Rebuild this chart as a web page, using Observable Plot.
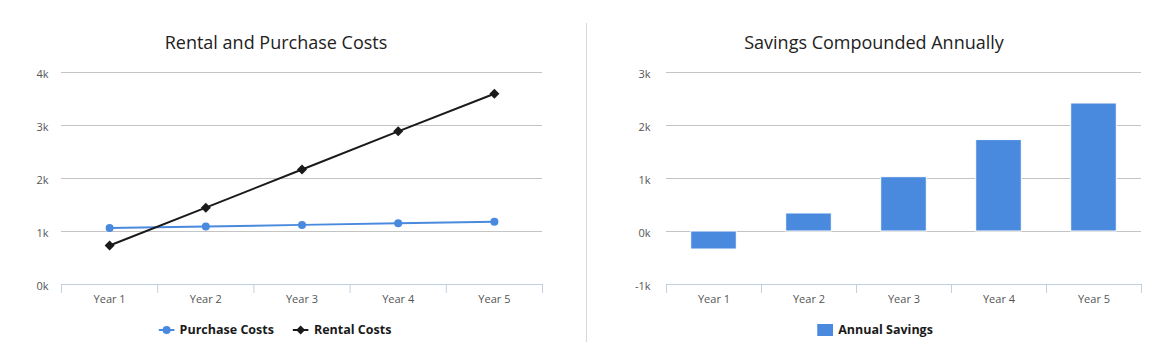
<!DOCTYPE html>
<html>
<head>
<meta charset="utf-8">
<script src="https://cdn.jsdelivr.net/npm/d3@7"></script>
<script src="https://cdn.jsdelivr.net/npm/@observablehq/plot@0.6"></script>
<style>
  body { margin: 0; background: #fff; }
  #root { position: relative; width: 1171px; height: 357px; overflow: hidden; font-family: "Open Sans", "DejaVu Sans", sans-serif; }
  .title { position: absolute; top: 30px; font-size: 18px; color: #222; white-space: nowrap; transform: translateX(-50%); }
  .legend { position: absolute; top: 321px; font-size: 12.5px; font-weight: bold; color: #1a1a1a; white-space: nowrap; transform: translateX(-50%); display: flex; align-items: center; }
  .legend span.item { display: inline-flex; align-items: center; margin-right: 19px; }
  .legend span.item:last-child { margin-right: 0; }
  .legend svg { margin-right: 5px; }
  .sep { position: absolute; left: 586px; top: 23px; width: 1px; height: 319px; background: #d8d8d8; }
  .plot { position: absolute; top: 56px; }
</style>
</head>
<body>
<div id="root"></div>
<script>
// ---- data ----
const years = ["Year 1", "Year 2", "Year 3", "Year 4", "Year 5"];
const purchaseCosts = [1065, 1095, 1125, 1155, 1185];
const rentalCosts = [735, 1450, 2170, 2890, 3600];
const annualSavings = [-340, 340, 1025, 1725, 2415];
const costTicks = [0, 1000, 2000, 3000, 4000];
const savingsTicks = [-1000, 0, 1000, 2000, 3000];

const BLUE = "#4a8ade";
const BLACK = "#1a1a1a";
const GRID = "#c4c4c4";
const AXIS = "#c0d0e0";
const LABEL = "#555";

const idx = d3.range(years.length);
const boundaries = d3.range(years.length + 1).map(i => i - 0.5);
const kFmt = d => `${d / 1000}k`;

const root = document.getElementById("root");

function addTitle(text, cx) {
  const t = document.createElement("div");
  t.className = "title";
  t.style.left = cx + "px";
  t.textContent = text;
  root.appendChild(t);
}

function addLegend(items, cx) {
  const l = document.createElement("div");
  l.className = "legend";
  l.style.left = cx + "px";
  for (const it of items) {
    const s = document.createElement("span");
    s.className = "item";
    let sw;
    if (it.kind === "bar") {
      sw = `<svg width="16" height="12"><rect x="0" y="0" width="16" height="12" fill="${it.color}"/></svg>`;
    } else if (it.kind === "circle") {
      sw = `<svg width="16" height="12"><line x1="0" y1="6" x2="16" y2="6" stroke="${it.color}" stroke-width="2"/><circle cx="8" cy="6" r="4" fill="${it.color}"/></svg>`;
    } else {
      sw = `<svg width="16" height="12"><line x1="0" y1="6" x2="16" y2="6" stroke="${it.color}" stroke-width="2"/><path d="M8,1.5L12.5,6L8,10.5L3.5,6Z" fill="${it.color}"/></svg>`;
    }
    s.innerHTML = sw + `<span>${it.label}</span>`;
    l.appendChild(s);
  }
  root.appendChild(l);
}

function commonAxes(yTicks, yPad) {
  return [
    Plot.gridY(yTicks, {stroke: GRID, strokeOpacity: 1}),
    Plot.ruleY([yTicks[0]], {stroke: AXIS, strokeWidth: 1}),
    Plot.axisY({ticks: yTicks, tickFormat: kFmt, tickSize: 0, tickPadding: yPad, fontSize: 11, fill: LABEL, label: null, dy: 2}),
    Plot.axisX({ticks: idx, tickFormat: i => years[i], tickSize: 0, tickPadding: 11, fontSize: 11, fill: LABEL, label: null}),
    Plot.axisX({ticks: boundaries, tickFormat: () => "", tickSize: 9, stroke: AXIS, label: null})
  ];
}

// ---- left chart ----
const purchase = idx.map(i => ({i, v: purchaseCosts[i]}));
const rental = idx.map(i => ({i, v: rentalCosts[i]}));

const left = Plot.plot({
  width: 560, height: 256,
  marginLeft: 61, marginRight: 18, marginTop: 16, marginBottom: 28,
  style: {fontFamily: "'Open Sans', 'DejaVu Sans', sans-serif", background: "transparent", overflow: "visible"},
  x: {type: "linear", domain: [-0.5, years.length - 0.5]},
  y: {domain: [costTicks[0], costTicks[costTicks.length - 1]]},
  marks: [
    ...commonAxes(costTicks, 13),
    Plot.line(purchase, {x: "i", y: "v", stroke: BLUE, strokeWidth: 2}),
    Plot.dot(purchase, {x: "i", y: "v", r: 4, fill: BLUE}),
    Plot.line(rental, {x: "i", y: "v", stroke: BLACK, strokeWidth: 2}),
    Plot.dot(rental, {x: "i", y: "v", r: 4.5, symbol: "diamond2", fill: BLACK, stroke: "none"})
  ]
});
left.classList.add("plot");
left.style.left = "0px";
root.appendChild(left);

// ---- right chart ----
const savings = idx.map(i => ({i, v: annualSavings[i]}));
const right = Plot.plot({
  width: 560, height: 256,
  marginLeft: 76, marginRight: 9, marginTop: 16, marginBottom: 28,
  style: {fontFamily: "'Open Sans', 'DejaVu Sans', sans-serif", background: "transparent", overflow: "visible"},
  x: {type: "linear", domain: [-0.5, years.length - 0.5]},
  y: {domain: [savingsTicks[0], savingsTicks[savingsTicks.length - 1]]},
  marks: [
    ...commonAxes(savingsTicks, 16),
    Plot.rectY(savings, {x1: d => d.i - 0.24, x2: d => d.i + 0.24, y1: 0, y2: "v", fill: BLUE, stroke: "#fff", strokeWidth: 1})
  ]
});
right.classList.add("plot");
right.style.left = "590px";
root.appendChild(right);

// separator, titles, legends
const sep = document.createElement("div");
sep.className = "sep";
root.appendChild(sep);

addTitle("Rental and Purchase Costs", 276);
addTitle("Savings Compounded Annually", 874);
addLegend([{kind: "circle", color: BLUE, label: "Purchase Costs"}, {kind: "diamond", color: BLACK, label: "Rental Costs"}], 275);
addLegend([{kind: "bar", color: BLUE, label: "Annual Savings"}], 875);
</script>
</body>
</html>
